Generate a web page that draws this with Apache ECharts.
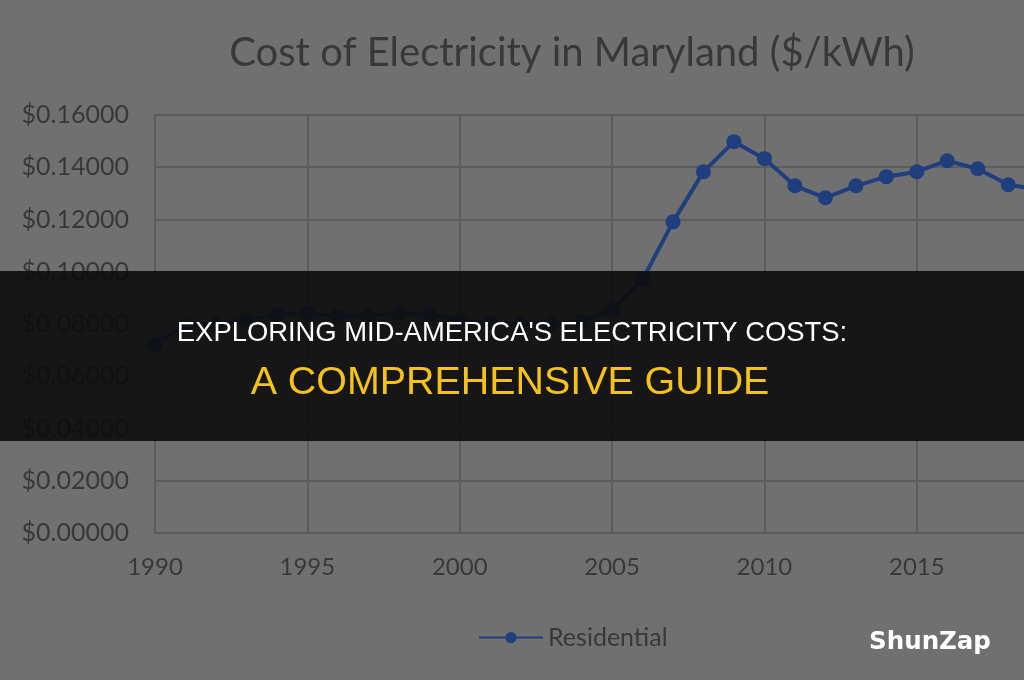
<!DOCTYPE html>
<html>
<head>
<meta charset="utf-8">
<script src="https://cdn.jsdelivr.net/npm/echarts@6/dist/echarts.min.js"></script>
<style>
  html, body { margin: 0; padding: 0; overflow: hidden; background: #707070; }
  #chartBox { width: 1100px; height: 680px; }
</style>
</head>
<body>
<div id="chartBox"></div>
<script>
// years and residential price ($/kWh)
const years = [1990, 1991, 1992, 1993, 1994, 1995, 1996, 1997, 1998, 1999,
  2000, 2001, 2002, 2003, 2004, 2005, 2006, 2007, 2008, 2009,
  2010, 2011, 2012, 2013, 2014, 2015, 2016, 2017, 2018, 2019]
const residential = [0.0722, 0.0795, 0.0800, 0.0815, 0.0835, 0.0840, 0.0830, 0.0832, 0.0840, 0.0838,
  0.0815, 0.0805, 0.0800, 0.0800, 0.0810, 0.0854, 0.0970, 0.1191, 0.1383, 0.1498,
  0.1433, 0.1329, 0.1283, 0.1329, 0.1364, 0.1383, 0.1425, 0.1394, 0.1333, 0.1315]
const yTicks = [0, 0.02, 0.04, 0.06, 0.08, 0.10, 0.12, 0.14, 0.16]

const chart = echarts.init(document.getElementById('chartBox'), null, { renderer: 'canvas' })

const textDark = '#383838'
const gridCol = '#5c5c5c'
const lineBlue = '#1f3e7e'

const option = {
  backgroundColor: '#707070',
  animation: false,
  title: {
    text: 'Cost of Electricity in Maryland ($/kWh)',
    left: 567, top: 28, textAlign: 'center',
    textStyle: { color: textDark, fontSize: 40, fontWeight: 'normal', fontFamily: 'Lato' }
  },
  grid: { left: 155, width: 915, top: 115, height: 418 },
  xAxis: {
    type: 'value',
    min: 1990, max: 2020, interval: 5,
    axisLine: { show: true, lineStyle: { color: gridCol, width: 2 } },
    axisTick: { show: false },
    splitLine: { show: true, lineStyle: { color: gridCol, width: 2 } },
    axisLabel: { color: textDark, fontSize: 24, fontFamily: 'Lato', margin: 22, formatter: v => String(v) }
  },
  yAxis: {
    type: 'value',
    min: yTicks[0], max: yTicks[yTicks.length - 1], interval: 0.02,
    axisLine: { show: true, lineStyle: { color: gridCol, width: 2 } },
    axisTick: { show: false },
    splitLine: { show: true, lineStyle: { color: gridCol, width: 2 } },
    axisLabel: { color: textDark, fontSize: 25, fontFamily: 'Lato', margin: 26, formatter: v => '$' + v.toFixed(5) }
  },
  legend: {
    left: 473, top: 620,
    itemWidth: 64, itemHeight: 14,
    textStyle: { color: textDark, fontSize: 25, fontFamily: 'Lato' },
    data: ['Residential']
  },
  series: [{
    name: 'Residential',
    type: 'line',
    data: years.map((y, i) => [y, residential[i]]),
    symbol: 'circle',
    symbolSize: 15,
    lineStyle: { color: lineBlue, width: 4 },
    itemStyle: { color: lineBlue },
    clip: false
  }],
  graphic: [
    { type: 'rect', z: 100, shape: { x: 0, y: 271, width: 1100, height: 170 }, style: { fill: 'rgba(12,12,12,0.9)' } },
    { type: 'text', z: 101, x: 512, y: 333, style: {
      text: "EXPLORING MID-AMERICA'S ELECTRICITY COSTS:", fill: '#ffffff',
      font: '27.4px "Liberation Sans"', textAlign: 'center', textVerticalAlign: 'middle' } },
    { type: 'text', z: 101, x: 510, y: 383, style: {
      text: 'A COMPREHENSIVE GUIDE', fill: '#f5c21b',
      font: '39.4px "Liberation Sans"', textAlign: 'center', textVerticalAlign: 'middle' } },
    { type: 'text', z: 101, x: 930, y: 643, style: {
      text: 'ShunZap', fill: '#ffffff',
      font: 'bold 24.5px "DejaVu Sans"', textAlign: 'center', textVerticalAlign: 'middle' } }
  ]
}
chart.setOption(option)
</script>
</body>
</html>
